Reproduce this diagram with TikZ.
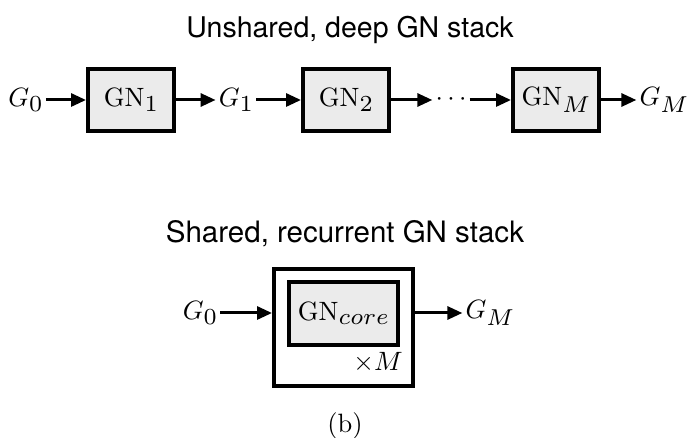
\RequirePackage{fix-cm}
\documentclass[tikz,border=0pt]{standalone}
\usepackage[no-math]{fontspec}
\setsansfont{TeX Gyre Heros}
\usetikzlibrary{arrows.meta}
\DeclareFontShape{OT1}{cmr}{m}{n}{<-24>cmr7<24->cmr10}{}
\DeclareFontShape{OML}{cmm}{m}{it}{<-24>cmmi7<24->cmmi10}{}
\DeclareMathSizes{26.5}{26.5}{23}{18}
\definecolor{boxfill}{HTML}{EBEBEB}
\tikzset{
  gnbox/.style={draw, line width=4pt, fill=boxfill, minimum width=86pt, minimum height=62pt, inner sep=0pt},
  lbl/.style={inner sep=3pt},
  conn/.style={line width=3pt, -{Triangle[length=15pt,width=13pt]}},
  title/.style={anchor=base, inner sep=0pt}
}
\begin{document}
\begin{tikzpicture}[x=1pt, y=-1pt, font=\fontsize{26.5}{32}\selectfont]
\useasboundingbox (0,0) rectangle (689,438);
% top row
\node[title, font=\sffamily\fontsize{28.5}{34}\selectfont] (t1) at (350,38) {Unshared, deep GN stack};
\node[lbl] (g0) at (25.5,100) {$G_0$};
\node[gnbox] (gn1) at (131,100) {$\mathrm{GN}_1$};
\node[lbl] (g1) at (236,100) {$G_1$};
\node[gnbox] (gn2) at (346,100) {$\mathrm{GN}_2$};
\node[lbl] (dots) at (451,100) {$\cdots$};
\node[gnbox] (gnm) at (556,100) {$\mathrm{GN}_M$};
\node[lbl] (gm) at (664,100) {$G_M$};
\draw[conn] (g0) -- (gn1);
\draw[conn] (gn1) -- (g1);
\draw[conn] (g1) -- (gn2);
\draw[conn] (gn2) -- (dots);
\draw[conn] (dots) -- (gnm);
\draw[conn] (gnm) -- (gm);
% bottom
\node[title, font=\sffamily\fontsize{29.5}{35}\selectfont] (t2) at (345,243) {Shared, recurrent GN stack};
\node[draw, line width=4pt, minimum width=139pt, minimum height=117pt, inner sep=0pt] (outer) at (343.5,327.5) {};
\node[draw, line width=4pt, fill=boxfill, minimum width=109pt, minimum height=63pt, inner sep=0pt] (core) at (343.5,313.5) {$\mathrm{GN}_{core}$};
\node[inner sep=0pt, anchor=base] (times) at (378,371) {$\times M$};
\node[lbl] (g0b) at (200,313) {$G_0$};
\node[lbl] (gmb) at (490,313) {$G_M$};
\draw[conn] (g0b) -- (g0b -| outer.west);
\draw[conn] (gmb -| outer.east) -- (gmb);
\node[inner sep=0pt, anchor=base] (cap) at (345,433) {$(\mathrm{b})$};
\end{tikzpicture}
\end{document}
